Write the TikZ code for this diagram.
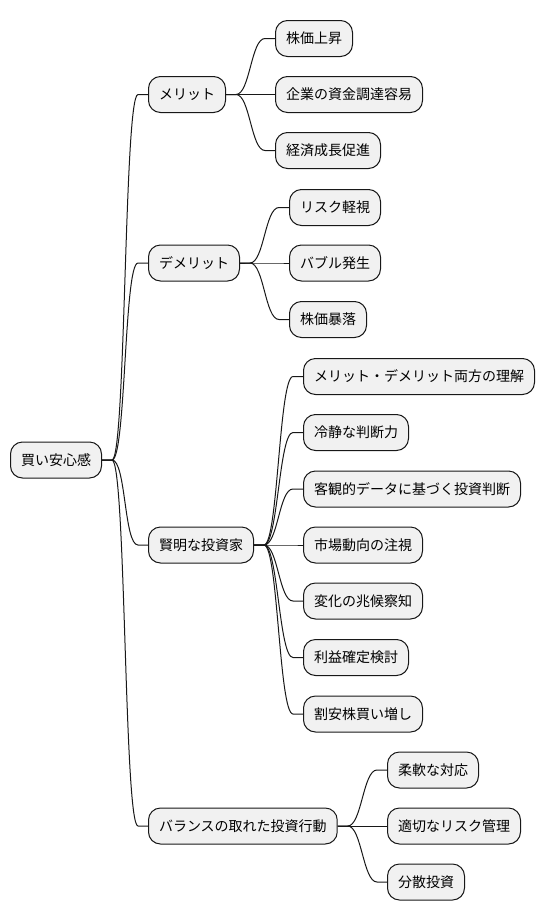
\documentclass[tikz,border=0pt]{standalone}
\usepackage{fontspec}
\setmainfont{Noto Sans CJK JP}
\definecolor{boxfill}{HTML}{F1F1F1}
\definecolor{boxline}{HTML}{181818}
\tikzset{
	topic/.style={draw=boxline, fill=boxfill, line width=1pt,
		rounded corners=12pt, minimum height=36pt,
		inner xsep=10.5pt, inner ysep=0pt,
		text height=11.5pt, text depth=1.5pt, anchor=west,
		font=\fontsize{14pt}{16pt}\selectfont},
	branch/.style={draw=boxline, line width=1pt}
}

\begin{document}
\begin{tikzpicture}[x=1pt, y=-1pt]
	\useasboundingbox (0,0) rectangle (544,921);
	% root
	\node [topic] (0) at (10,460) {買い安心感};
	% first level
	\node [topic] (1) at (148,94.5) {メリット};
	\node [topic] (2) at (148,263) {デメリット};
	\node [topic] (3) at (148,545) {賢明な投資家};
	\node [topic] (4) at (148,826) {バランスの取れた投資行動};
	% second level
	\node [topic] (11) at (275,38.5) {株価上昇};
	\node [topic] (12) at (275,94.5) {企業の資金調達容易};
	\node [topic] (13) at (275,150.5) {経済成長促進};
	\node [topic] (21) at (289,207.5) {リスク軽視};
	\node [topic] (22) at (289,263) {バブル発生};
	\node [topic] (23) at (289,319.5) {株価暴落};
	\node [topic] (31) at (303,376.5) {メリット・デメリット両方の理解};
	\node [topic] (32) at (303,432.5) {冷静な判断力};
	\node [topic] (33) at (303,489) {客観的データに基づく投資判断};
	\node [topic] (34) at (303,545) {市場動向の注視};
	\node [topic] (35) at (303,601) {変化の兆候察知};
	\node [topic] (36) at (303,657.5) {利益確定検討};
	\node [topic] (37) at (303,714) {割安株買い増し};
	\node [topic] (41) at (387,770) {柔軟な対応};
	\node [topic] (42) at (387,826) {適切なリスク管理};
	\node [topic] (43) at (387,882) {分散投資};
	% branches
	\foreach \a/\b in {0/1, 0/2, 0/3, 0/4, 1/11, 1/12, 1/13,
		2/21, 2/22, 2/23, 3/31, 3/32, 3/33, 3/34, 3/35, 3/36, 3/37,
		4/41, 4/42, 4/43}
		\draw [branch] (\a.east) -- ++(10,0)
			.. controls +(14,0) and +(-14,0) ..
			([xshift=-10pt]\b.west) -- (\b.west);
\end{tikzpicture}
\end{document}
